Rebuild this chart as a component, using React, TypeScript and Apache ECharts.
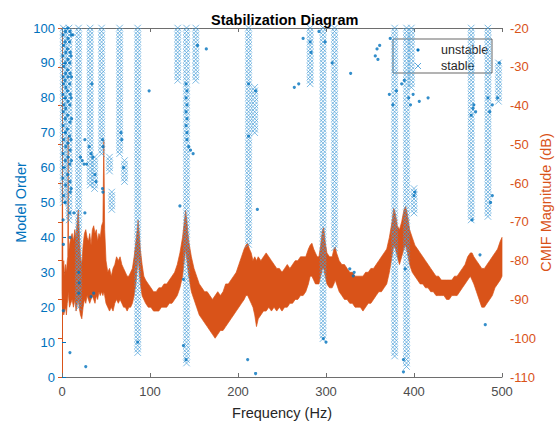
import React, { useEffect, useRef } from "react";
import * as echarts from "echarts";

// ---- Stable pole columns: frequency (Hz), lowest and highest model order ----
const STABLE_FREQ = [1.5, 8, 18.8, 32, 37, 45, 54, 56.5, 65.5, 71, 86, 131.5, 141.5, 152, 212, 219, 282, 296.6, 309.7, 378, 391.5, 397, 400, 465, 484, 496];
const STABLE_MIN_ORDER = [50, 45, 20, 55, 54, 64, 59, 48, 64, 56, 7, 85, 4, 85, 38, 70, 84, 11, 37, 6, 3, 83, 47, 45, 46, 79];
const STABLE_MAX_ORDER = [100, 100, 100, 100, 63, 100, 63, 53, 100, 62, 100, 100, 100, 100, 100, 83, 100, 100, 100, 100, 100, 100, 54, 100, 100, 90];

// ---- Unstable poles ----
const UNSTABLE_FREQ = [
  1.2, 1.8, 1.0, 2.0, 1.4, 1.7, 1.1, 2.1, 1.5, 1.3, 1.9, 1.2, 1.6, 1.0, 1.8, 1.3, 1.6, 1.5,
  4.0, 3.6, 4.3, 3.8, 4.1, 3.5, 4.4, 3.9, 4.2, 3.7, 4.0, 4.3, 3.8, 4.1, 3.6,
  6.5, 6.9, 6.2, 6.7, 6.4, 7.0, 6.3, 6.8, 6.5, 6.1, 6.6, 6.9, 6.4,
  9.0, 8.6, 9.3, 8.8, 9.2, 8.7, 9.4, 8.9, 9.1, 8.5, 9.3, 8.8, 9.0, 9.4, 8.7, 9.1, 9.0,
  10.6, 10.2, 10.8, 10.4, 10.9, 10.3, 10.7, 10.5, 12.5,
  13.6, 26, 27, 33, 36, 19, 19.5, 19,
  34, 26, 31, 33, 28, 35, 37.5, 38.6, 21, 23, 25,
  46, 46.5, 46, 46.5, 67, 68, 70,
  86, 99, 134, 138, 138, 141,
  142, 144, 146, 149,
  141, 142, 141, 142, 141, 142, 141, 142,
  154, 164,
  212, 212, 220, 211, 220, 222,
  264, 269, 274, 282, 283, 292, 299, 307,
  297, 300, 327, 332, 331, 328,
  356, 358, 359, 361, 373,
  372, 376, 380, 386, 389, 394, 396, 399, 406, 416,
  390, 388, 388, 400, 401,
  466, 475, 481, 465, 467, 468, 470,
  484, 486, 489, 495, 497, 487, 489,
];
const UNSTABLE_ORDER = [
  98, 95, 92, 89, 86, 84, 81, 78, 76, 72, 68, 64, 60, 57, 52, 45, 38, 19,
  99, 96, 93, 90, 87, 85, 83, 80, 77, 74, 70, 66, 62, 55, 50,
  100, 97, 94, 91, 88, 86, 82, 79, 75, 71, 67, 63, 58,
  99, 96, 93, 90, 87, 84, 81, 78, 73, 69, 65, 61, 56, 53, 47, 40, 7,
  98, 92, 86, 80, 74, 68, 62, 54, 98,
  47, 47, 3, 23, 24, 30, 27, 24,
  84, 68, 66, 64, 61, 63, 58, 56, 63, 62, 61,
  68, 66, 54, 53, 70, 68, 60,
  10, 82, 49, 28, 9, 5,
  68, 66, 65, 64,
  84, 82, 80, 78, 76, 74, 72, 70,
  95, 94,
  84, 69, 82, 5, 1, 48,
  83, 84, 97, 96, 93, 99, 96, 90,
  11, 10, 31, 30, 29, 87,
  92, 94, 91, 95, 97,
  81, 78, 82, 84, 85, 80, 78, 81, 79, 80,
  31, 5, 1.5, 52, 53,
  45, 35, 15, 75, 77, 78, 76,
  80, 76, 78, 80, 90, 50, 52,
];

// ---- CMIF magnitude (dB): noise band upper / lower envelope ----
const CMIF_FREQ = [
  0, 0.5, 1, 2, 3, 4, 5, 6, 6.6, 7, 7.4, 8.5, 10, 11.5, 13, 14.5, 16, 17.5, 18.5, 19.5,
  21, 22.5, 24, 25.5, 27, 28.5, 30, 31.5, 33, 34.5, 36, 37.5, 39, 40.5, 42, 43.5, 45, 46.5, 47.5, 48.5,
  50, 52, 54, 56, 58, 60, 62, 64, 66, 68, 70, 72, 74, 76, 78, 80, 82, 84, 85.5, 86.5,
  87.5, 89, 91, 93, 95, 98, 101, 104, 107, 110, 113, 116, 119, 122, 125, 128, 131, 134, 137, 139,
  140.5, 142, 144, 147, 150, 153, 156, 159, 162, 165, 168, 171, 174, 177, 180, 183, 186, 189, 192, 195,
  198, 201, 204, 207, 209, 211, 213, 215, 217, 219, 221, 223, 226, 229, 232, 235, 238, 241, 244, 247,
  250, 253, 256, 259, 262, 265, 268, 271, 274, 277, 280, 282, 284, 286, 288, 290, 292, 294, 296, 297.5,
  299, 301, 304, 307, 309, 310.5, 312, 315, 318, 321, 324, 327, 330, 333, 336, 339, 342, 345, 348, 351,
  354, 357, 360, 363, 366, 369, 372, 375, 377, 379, 381, 383.5, 386, 388.5, 390.5, 392.5, 395, 398, 401, 404,
  407, 410, 413, 416, 419, 422, 425, 428, 431, 434, 437, 440, 443, 446, 449, 452, 455, 458, 461, 464,
  466, 468, 471, 474, 477, 480, 483, 486, 489, 492, 495, 498, 500,
];
const CMIF_UPPER = [
  -80, -56, -82, -80, -84, -81, -83, -80, -79, -48, -78, -76, -74, -73, -75, -72, -74, -69, -67, -72,
  -79, -81, -76, -73, -72, -74, -75, -73, -76, -72, -71, -73, -72, -75, -73, -74, -71, -70, -49, -72,
  -80, -83, -82, -84, -82, -81, -79, -80, -79, -81, -82, -83, -84, -84, -83, -82, -79, -75, -72, -69.5,
  -72, -77, -81, -84, -85, -86, -87, -88, -88, -87, -87, -86, -86, -85, -84, -83, -81, -78, -74, -70,
  -67, -70, -75, -79, -82, -84, -86, -87, -88, -88, -89, -90, -89, -88, -89, -88, -86, -86, -85, -84,
  -83, -81, -79, -77, -76, -75.5, -77, -78, -80, -79, -80, -79, -80, -79, -78, -79, -80, -81, -82, -82,
  -83, -82, -81, -82, -81, -80, -80, -79, -79, -79, -77, -76, -75.5, -77, -78, -79, -79, -76, -72, -71.5,
  -75, -78, -79, -79, -77, -76.5, -78, -80, -81, -81, -82, -83, -83, -84, -84, -84, -84, -83, -83, -82,
  -82, -81, -80, -79, -78, -77, -74, -70, -66.5, -68, -71, -72, -70, -67, -66, -68, -72, -74, -76, -77,
  -78, -79, -80, -81, -82, -83, -84, -84, -85, -85, -85, -85, -85, -84, -84, -83, -82, -81, -79, -78,
  -78, -79, -80, -81, -82, -82, -81, -80, -79, -78, -77, -75, -74,
];
const CMIF_LOWER = [
  -88, -92, -93, -94, -93, -92, -94, -91, -90, -88, -89, -92, -91, -90, -92, -90, -93, -91, -90, -92,
  -94, -95, -92, -90, -91, -89, -90, -91, -90, -89, -90, -91, -89, -90, -88, -89, -88, -89, -88, -89,
  -91, -92, -93, -92, -93, -91, -90, -91, -90, -91, -92, -92, -93, -92, -92, -91, -89, -86, -82, -79,
  -82, -86, -89, -90, -91, -92, -92, -93, -93, -93, -92, -92, -92, -91, -91, -90, -89, -87, -84, -80,
  -77, -80, -84, -88, -90, -92, -94, -95, -96, -97, -98, -99, -100, -99, -98, -98, -97, -96, -95, -94,
  -93, -92, -91, -90, -89, -89, -90, -91, -92, -94, -97, -95, -94, -93, -93, -92, -93, -92, -93, -92,
  -93, -92, -92, -91, -91, -90, -90, -89, -89, -88, -86, -84, -84, -85, -86, -86, -86, -84, -82, -82,
  -84, -86, -87, -87, -86, -85, -86, -88, -89, -90, -90, -91, -91, -92, -92, -92, -93, -92, -91, -91,
  -90, -89, -88, -88, -87, -86, -83, -79, -76, -77, -79, -81, -79, -77, -76, -78, -81, -83, -84, -85,
  -86, -86, -87, -87, -88, -88, -89, -89, -89, -89, -90, -90, -89, -89, -89, -88, -87, -86, -85, -84,
  -85, -86, -88, -90, -92, -92, -91, -90, -89, -87, -86, -85, -84,
];

const BLUE = "#0072BD";
const STABLE_BLUE = "#4A9FD8";
const ORANGE = "#D95319";
const FONT = "'Liberation Sans', Arial, Helvetica, sans-serif";

export default function App() {
  const ref = useRef<HTMLDivElement>(null);

  useEffect(() => {
    if (!ref.current) return;
    const chart = echarts.init(ref.current, undefined, { renderer: "svg" });

    const stableData: number[][] = [];
    STABLE_FREQ.forEach((f, i) => {
      for (let o = STABLE_MIN_ORDER[i]; o <= STABLE_MAX_ORDER[i]; o++) {
        stableData.push([f, o]);
      }
    });
    const unstableData = UNSTABLE_FREQ.map((f, i) => [f, UNSTABLE_ORDER[i]]);

    const legendX = 393;
    const legendY = 39;

    chart.setOption({
      animation: false,
      textStyle: { fontFamily: FONT },
      title: {
        text: "Stabilization Diagram",
        left: 206,
        top: 7,
        textStyle: { fontSize: 14.5, fontWeight: "bold", color: "#000", fontFamily: FONT },
      },
      grid: { left: 62, right: 57, top: 28, bottom: 46, containLabel: false, outerBoundsMode: "none" },
      xAxis: [
        {
          type: "value",
          position: "bottom",
          min: 0,
          max: 500,
          interval: 100,
          name: "Frequency (Hz)",
          nameLocation: "middle",
          nameGap: 28,
          nameMoveOverlap: false,
          nameTextStyle: { fontSize: 14.5, color: "#262626" },
          axisLine: { show: true, lineStyle: { color: "#6e6e6e", width: 1 } },
          axisTick: { show: true, inside: true, length: 4, lineStyle: { color: "#6e6e6e" } },
          axisLabel: { fontSize: 13, color: "#4d4d4d", margin: 8 },
          splitLine: { show: false },
        },
        {
          type: "value",
          position: "top",
          min: 0,
          max: 500,
          interval: 100,
          axisLine: { show: true, lineStyle: { color: "#6e6e6e", width: 1 } },
          axisTick: { show: true, inside: true, length: 4, lineStyle: { color: "#6e6e6e" } },
          axisLabel: { show: false },
          splitLine: { show: false },
        },
      ],
      yAxis: [
        {
          type: "value",
          position: "left",
          min: 0,
          max: 100,
          interval: 10,
          name: "Model Order",
          nameLocation: "middle",
          nameGap: 34,
          nameMoveOverlap: false,
          nameTextStyle: { fontSize: 14.5, color: BLUE },
          axisLine: { show: true, lineStyle: { color: BLUE, width: 1 } },
          axisTick: { show: true, inside: true, length: 4, lineStyle: { color: BLUE } },
          axisLabel: { fontSize: 13, color: BLUE, margin: 7 },
          splitLine: { show: false },
        },
        {
          type: "value",
          position: "right",
          min: -110,
          max: -20,
          interval: 10,
          name: "CMIF Magnitude (dB)",
          nameLocation: "middle",
          nameGap: 36,
          nameRotate: 90,
          nameMoveOverlap: false,
          nameTextStyle: { fontSize: 14.5, color: ORANGE },
          axisLine: { show: true, lineStyle: { color: ORANGE, width: 1 } },
          axisTick: { show: true, inside: true, length: 4, lineStyle: { color: ORANGE } },
          axisLabel: { fontSize: 13, color: ORANGE, margin: 8 },
          splitLine: { show: false },
        },
      ],
      series: [
        {
          name: "CMIF",
          type: "custom",
          xAxisIndex: 0,
          yAxisIndex: 1,
          z: 1,
          data: [[CMIF_FREQ[0], CMIF_UPPER[0]]],
          renderItem: (_params: any, api: any) => {
            const pts: number[][] = [];
            for (let i = 0; i < CMIF_FREQ.length; i++) pts.push(api.coord([CMIF_FREQ[i], CMIF_UPPER[i]]));
            for (let i = CMIF_FREQ.length - 1; i >= 0; i--) pts.push(api.coord([CMIF_FREQ[i], CMIF_LOWER[i]]));
            return {
              type: "polygon",
              shape: { points: pts },
              style: { fill: ORANGE, stroke: ORANGE, lineWidth: 0.7 },
            };
          },
        },
        {
          name: "stable",
          type: "scatter",
          xAxisIndex: 0,
          yAxisIndex: 0,
          z: 3,
          symbol: "path://M0,0L10,10M10,0L0,10",
          symbolSize: 6.5,
          itemStyle: { color: "rgba(0,0,0,0)", borderColor: STABLE_BLUE, borderWidth: 0.9 },
          data: stableData,
        },
        {
          name: "unstable",
          type: "scatter",
          xAxisIndex: 0,
          yAxisIndex: 0,
          z: 4,
          symbol: "circle",
          symbolSize: 3.2,
          itemStyle: { color: BLUE },
          data: unstableData,
        },
      ],
      graphic: [
        {
          type: "group",
          z: 100,
          children: [
            {
              type: "rect",
              shape: { x: legendX, y: legendY, width: 99, height: 34 },
              style: { fill: "#fff", stroke: "#262626", lineWidth: 0.7 },
            },
            {
              type: "circle",
              shape: { cx: legendX + 25, cy: legendY + 11, r: 1.6 },
              style: { fill: BLUE },
            },
            {
              type: "line",
              shape: { x1: legendX + 22, y1: legendY + 24, x2: legendX + 28, y2: legendY + 30 },
              style: { stroke: STABLE_BLUE, lineWidth: 0.9 },
            },
            {
              type: "line",
              shape: { x1: legendX + 28, y1: legendY + 24, x2: legendX + 22, y2: legendY + 30 },
              style: { stroke: STABLE_BLUE, lineWidth: 0.9 },
            },
            {
              type: "text",
              x: legendX + 48,
              y: legendY + 11,
              style: { text: "unstable", fontSize: 12.5, fill: "#262626", fontFamily: FONT, verticalAlign: "middle" },
            },
            {
              type: "text",
              x: legendX + 48,
              y: legendY + 27,
              style: { text: "stable", fontSize: 12.5, fill: "#262626", fontFamily: FONT, verticalAlign: "middle" },
            },
          ],
        },
      ],
    });

    return () => chart.dispose();
  }, []);

  return (
    <div
      ref={ref}
      style={{ position: "fixed", left: 0, top: 0, width: 559, height: 423, background: "#fff" }}
    />
  );
}
